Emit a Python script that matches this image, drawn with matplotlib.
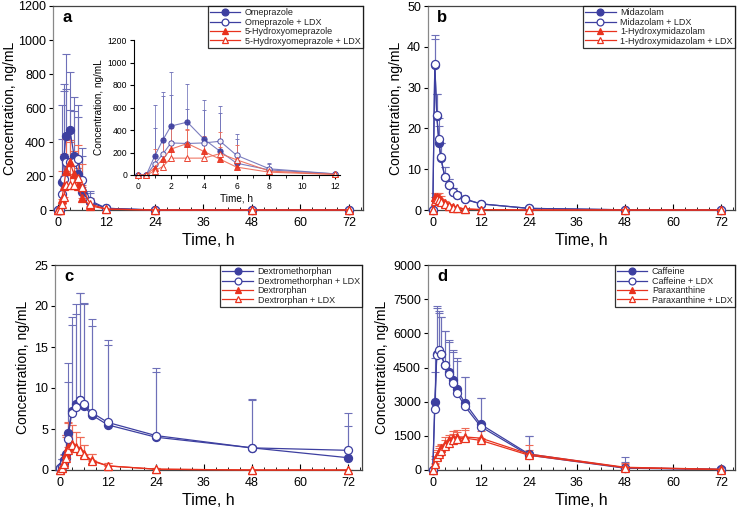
import numpy as np
import matplotlib.pyplot as plt
from matplotlib.ticker import MultipleLocator

plt.rcParams['font.family'] = ['Liberation Sans', 'DejaVu Sans']

t = [0, 0.5, 1, 1.5, 2, 3, 4, 5, 6, 8, 12, 24, 48, 72]

# panel a - omeprazole
ome = [0, 0, 165, 310, 435, 470, 320, 210, 105, 45, 10, 0, 0, 0]
ome_sd = [0, 0, 455, 430, 485, 340, 345, 405, 260, 55, 10, 0, 0, 0]
ome_ldx = [0, 0, 95, 185, 285, 280, 285, 300, 175, 55, 10, 0, 0, 0]
ome_ldx_sd = [0, 0, 325, 515, 425, 310, 295, 250, 145, 55, 10, 0, 0, 0]
oh_ome = [0, 0, 65, 140, 230, 280, 210, 140, 70, 25, 5, 0, 0, 0]
oh_ome_sd = [0, 0, 165, 190, 190, 130, 140, 110, 80, 25, 5, 0, 0, 0]
oh_ome_ldx = [0, 0, 35, 75, 150, 150, 150, 190, 135, 35, 5, 0, 0, 0]
oh_ome_ldx_sd = [0, 0, 65, 125, 150, 250, 150, 190, 135, 35, 5, 0, 0, 0]

# panel b - midazolam
mdz = [0, 35.5, 23.0, 16.5, 12.8, 8.2, 6.2, 4.5, 3.7, 2.7, 1.5, 0.4, 0.05, 0]
mdz_sd = [0, 6.5, 5.5, 4.0, 3.7, 2.3, 1.3, 1.0, 0.8, 0.5, 0.5, 0.2, 0.05, 0]
mdz_ldx = [0, 35.8, 23.3, 17.3, 12.9, 8.0, 6.2, 4.4, 3.6, 2.6, 1.5, 0.4, 0.05, 0]
mdz_ldx_sd = [0, 7.0, 5.2, 5.2, 3.6, 2.5, 1.3, 1.1, 0.9, 0.6, 0.5, 0.2, 0.05, 0]
oh_mdz = [0, 3.3, 3.2, 3.0, 2.5, 1.6, 1.1, 0.7, 0.5, 0.3, 0.1, 0, 0, 0]
oh_mdz_sd = [0, 0.9, 1.0, 1.1, 0.9, 0.6, 0.4, 0.3, 0.2, 0.1, 0.05, 0, 0, 0]
oh_mdz_ldx = [0, 2.3, 2.8, 2.4, 1.9, 1.4, 0.9, 0.6, 0.4, 0.2, 0.1, 0, 0, 0]
oh_mdz_ldx_sd = [0, 0.8, 1.0, 1.0, 0.8, 0.6, 0.4, 0.3, 0.2, 0.1, 0.05, 0, 0, 0]

# panel c - dextromethorphan
dm = [0.3, 0.5, 1.2, 2.0, 4.5, 7.2, 8.0, 8.5, 7.8, 6.7, 5.5, 4.0, 2.7, 1.5]
dm_sd = [0.2, 0.9, 0.8, 2.3, 6.2, 10.5, 11.0, 13.1, 12.5, 10.9, 9.8, 7.9, 5.9, 3.9]
dm_ldx = [0.3, 0.4, 0.9, 1.5, 3.8, 7.0, 7.7, 8.5, 8.0, 7.0, 5.8, 4.2, 2.7, 2.4]
dm_ldx_sd = [0.2, 1.0, 0.6, 2.8, 9.2, 11.7, 12.6, 13.1, 12.4, 11.4, 10.1, 8.3, 5.8, 4.6]
dx = [0, 0.3, 1.0, 2.0, 2.8, 3.2, 2.8, 2.4, 1.9, 1.2, 0.5, 0.1, 0, 0]
dx_sd = [0, 0.3, 0.8, 2.3, 3.1, 2.3, 1.8, 1.6, 1.2, 0.8, 0.3, 0.1, 0, 0]
dx_ldx = [0, 0.2, 0.7, 1.5, 2.5, 3.0, 2.7, 2.3, 1.8, 1.1, 0.5, 0.1, 0, 0]
dx_ldx_sd = [0, 0.3, 0.7, 2.5, 3.2, 2.5, 1.9, 1.7, 1.3, 0.9, 0.3, 0.1, 0, 0]

# panel d - caffeine
caf = [0, 3000, 5100, 5200, 5100, 4600, 4300, 3950, 3550, 2950, 2000, 700, 100, 30]
caf_sd = [0, 1900, 2100, 1800, 1600, 1500, 1400, 1300, 1350, 1150, 1150, 800, 450, 120]
caf_ldx = [0, 2700, 5050, 5250, 5100, 4600, 4200, 3800, 3400, 2800, 1900, 650, 80, 20]
caf_ldx_sd = [0, 1600, 2050, 1650, 1600, 1500, 1400, 1400, 1400, 1300, 1250, 850, 270, 130]
px = [0, 300, 600, 800, 950, 1150, 1300, 1400, 1450, 1450, 1400, 700, 120, 30]
px_sd = [0, 300, 300, 250, 200, 300, 250, 300, 300, 400, 500, 400, 180, 30]
px_ldx = [0, 250, 550, 700, 850, 1050, 1200, 1300, 1350, 1400, 1300, 650, 100, 20]
px_ldx_sd = [0, 250, 250, 250, 250, 250, 250, 300, 300, 350, 400, 250, 150, 20]

BLUE = '#3d3fa0'
BLUE_L = '#6e70b8'
RED = '#e8321e'
RED_L = '#ee6a56'


def series(ax, y, sd, color, ecolor, marker, filled, label):
    ax.errorbar(t, y, yerr=[np.zeros(len(sd)), sd], fmt='none', ecolor=ecolor,
                elinewidth=0.8, capsize=3, capthick=0.8, clip_on=False, zorder=2)
    ax.plot(t, y, color=color, lw=0.9, marker=marker, ms=5.8,
            mfc=color if filled else 'white', mec=color, mew=0.9,
            label=label, clip_on=False, zorder=3)


def style(ax, ymax, ystep, letter, ylpad=3):
    ax.set_xlim(-1.2, 75.5)
    ax.set_ylim(0, ymax)
    ax.xaxis.set_major_locator(MultipleLocator(12))
    ax.xaxis.set_minor_locator(MultipleLocator(3))
    ax.yaxis.set_major_locator(MultipleLocator(ystep))
    ax.tick_params(axis='x', direction='in', length=4, labelsize=9, pad=5)
    ax.tick_params(axis='x', which='minor', direction='in', length=2.5)
    ax.tick_params(axis='y', direction='out', length=3, labelsize=9, pad=2)
    ax.set_xlabel('Time, h', fontsize=11.5, labelpad=3)
    ax.set_ylabel('Concentration, ng/mL', fontsize=10, labelpad=ylpad)
    for s in ax.spines.values():
        s.set_color('#444444')
        s.set_linewidth(0.9)
    ax.spines['left'].set_color('#888888')
    ax.text(0.03, 0.945, letter, transform=ax.transAxes, fontsize=12,
            fontweight='bold', va='center', ha='left')
    leg = ax.legend(loc='upper right', bbox_to_anchor=(1.0, 1.0), fontsize=6.5,
                    frameon=True, fancybox=False, borderaxespad=0,
                    handlelength=3.4, handletextpad=0.5, labelspacing=0.05,
                    borderpad=0.25, markerscale=0.85)
    leg.get_frame().set_edgecolor('black')
    leg.get_frame().set_linewidth(0.9)
    for txt in leg.get_texts():
        txt.set_color('#222222')


fig = plt.figure(figsize=(7.37, 5.09), dpi=100)
W, H = 737, 509
axa = fig.add_axes([53 / W, 1 - 210 / H, 310 / W, 204 / H])
axb = fig.add_axes([428 / W, 1 - 210 / H, 307 / W, 204 / H])
axc = fig.add_axes([55 / W, 1 - 470 / H, 307 / W, 205 / H])
axd = fig.add_axes([428 / W, 1 - 470 / H, 307 / W, 205 / H])

# panel a
series(axa, ome, ome_sd, BLUE, BLUE_L, 'o', True, 'Omeprazole')
series(axa, ome_ldx, ome_ldx_sd, BLUE, BLUE_L, 'o', False, 'Omeprazole + LDX')
series(axa, oh_ome, oh_ome_sd, RED, RED_L, '^', True, '5-Hydroxyomeprazole')
series(axa, oh_ome_ldx, oh_ome_ldx_sd, RED, RED_L, '^', False, '5-Hydroxyomeprazole + LDX')
style(axa, 1200, 200, 'a', ylpad=1)

# inset (first 12 h only)
n12 = t.index(12) + 1
ins = fig.add_axes([134 / W, 1 - 175 / H, 206 / W, 135 / H])
ins.patch.set_alpha(0)
for y, sd, c, m, f in [(ome, ome_sd, BLUE, 'o', True),
                       (ome_ldx, ome_ldx_sd, BLUE, 'o', False),
                       (oh_ome, oh_ome_sd, RED, '^', True),
                       (oh_ome_ldx, oh_ome_ldx_sd, RED, '^', False)]:
    lc = BLUE_L if c == BLUE else RED_L
    ins.errorbar(t[:n12], y[:n12], yerr=[np.zeros(n12), sd[:n12]], color=lc,
                 ecolor=lc, lw=0.8, elinewidth=0.6, capsize=1.5, capthick=0.6,
                 marker=m, ms=3.8, mfc=c if f else 'white', mec=c, mew=0.7,
                 alpha=0.9, clip_on=False)
ins.set_xlim(-0.25, 12.3)
ins.set_ylim(0, 1200)
ins.xaxis.set_major_locator(MultipleLocator(2))
ins.xaxis.set_minor_locator(MultipleLocator(1))
ins.yaxis.set_major_locator(MultipleLocator(200))
ins.tick_params(direction='out', length=3, labelsize=6.2, pad=2)
ins.tick_params(which='minor', direction='out', length=2)
ins.spines['top'].set_visible(False)
ins.spines['right'].set_visible(False)
ins.set_xlabel('Time, h', fontsize=7.2, labelpad=2)
ins.set_ylabel('Concentration, ng/mL', fontsize=7.2, labelpad=3)

# panel b
series(axb, mdz, mdz_sd, BLUE, BLUE_L, 'o', True, 'Midazolam')
series(axb, mdz_ldx, mdz_ldx_sd, BLUE, BLUE_L, 'o', False, 'Midazolam + LDX')
series(axb, oh_mdz, oh_mdz_sd, RED, RED_L, '^', True, '1-Hydroxymidazolam')
series(axb, oh_mdz_ldx, oh_mdz_ldx_sd, RED, RED_L, '^', False, '1-Hydroxymidazolam + LDX')
style(axb, 50, 10, 'b')

# panel c
series(axc, dm, dm_sd, BLUE, BLUE_L, 'o', True, 'Dextromethorphan')
series(axc, dm_ldx, dm_ldx_sd, BLUE, BLUE_L, 'o', False, 'Dextromethorphan + LDX')
series(axc, dx, dx_sd, RED, RED_L, '^', True, 'Dextrorphan')
series(axc, dx_ldx, dx_ldx_sd, RED, RED_L, '^', False, 'Dextrorphan + LDX')
style(axc, 25, 5, 'c')

# panel d
series(axd, caf, caf_sd, BLUE, BLUE_L, 'o', True, 'Caffeine')
series(axd, caf_ldx, caf_ldx_sd, BLUE, BLUE_L, 'o', False, 'Caffeine + LDX')
series(axd, px, px_sd, RED, RED_L, '^', True, 'Paraxanthine')
series(axd, px_ldx, px_ldx_sd, RED, RED_L, '^', False, 'Paraxanthine + LDX')
style(axd, 9000, 1500, 'd')

fig.savefig('out.png', dpi=100)
